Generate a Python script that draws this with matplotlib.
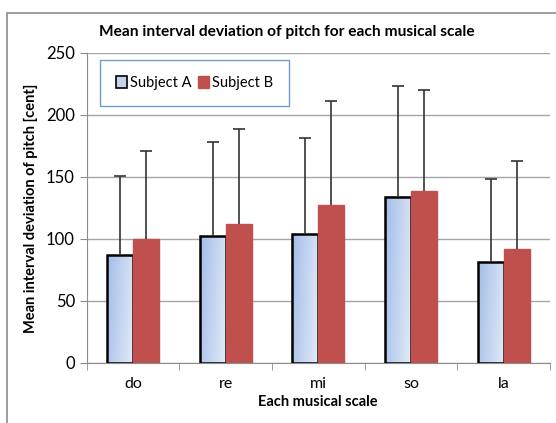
import numpy as np
import matplotlib.pyplot as plt
from matplotlib.patches import Rectangle, Patch

# data
scales = ["do", "re", "mi", "so", "la"]
subject_a = [87, 102, 104, 134, 81]
subject_b = [100, 112, 127, 139, 92]
err_a = [64, 76, 77, 89, 67]
err_b = [71, 77, 84, 81, 71]

plt.rcParams['font.family'] = ['Lato', 'DejaVu Sans']

fig = plt.figure(figsize=(5.56, 4.23), dpi=100)
ax = fig.add_axes([0.156, 0.142, 0.833, 0.733])

# outer chart frame
fig.patches.append(Rectangle((0.013, -0.05), 1.2, 1.02, transform=fig.transFigure,
                             fill=False, edgecolor="#8c8c8c", linewidth=1.2))

x = np.arange(len(scales))
w = 0.28
red = "#c0504d"

# gradient for Subject A bars
grad = np.zeros((50, 50, 3))
c1 = np.array([0.64, 0.74, 0.91])
c2 = np.array([0.88, 0.92, 0.97])
for i in range(50):
    for j in range(50):
        t = (j / 49) * 0.8 + (i / 49) * 0.2
        grad[i, j] = c1 * (1 - t) + c2 * t

bars_a = ax.bar(x - w / 2, subject_a, w, color="none", edgecolor="black", linewidth=1.8, zorder=3)
for b in bars_a:
    ax.imshow(grad, extent=(b.get_x(), b.get_x() + b.get_width(), 0, b.get_height()),
              aspect="auto", zorder=2.5, origin="upper")
ax.bar(x + w / 2, subject_b, w, color=red, edgecolor=red, zorder=3)

# plus-only error bars
for xs, ys, es in [(x - w / 2, subject_a, err_a), (x + w / 2, subject_b, err_b)]:
    eb = ax.errorbar(xs, ys, yerr=[np.zeros(5), es], fmt="none", ecolor="#333333",
                     elinewidth=1.2, capsize=4, capthick=1.2, zorder=4)
    eb[1][0].set_visible(False)

ax.set_xlim(-0.5, 4.5)
ax.set_ylim(0, 250)
ax.set_yticks(range(0, 251, 50))
ax.yaxis.grid(True, color="#a6a6a6", linewidth=1.0, zorder=0)
ax.set_xticks(x)
ax.set_xticklabels(scales, fontsize=11.5)
ax.set_xticks(np.arange(-0.5, 5, 1), minor=True)
ax.tick_params(axis="x", which="major", length=0, pad=10)
ax.tick_params(axis="x", which="minor", length=5, color="#8c8c8c")
ax.tick_params(axis="y", length=5, color="#8c8c8c", labelsize=12)
for s in ["top", "right"]:
    ax.spines[s].set_visible(False)
for s in ["left", "bottom"]:
    ax.spines[s].set_color("#8c8c8c")

fig.text(0.515, 0.925, "Mean interval deviation of pitch for each musical scale",
         fontsize=11.2, fontweight="bold", ha="center", va="center")
ax.set_xlabel("Each musical scale", fontsize=10.5, fontweight="bold", labelpad=3)
ax.set_ylabel("Mean interval deviation of pitch [cent]", fontsize=10.5, fontweight="bold", labelpad=6)

handles = [Patch(facecolor="#c5d4ee", edgecolor="black", linewidth=1.2, label="Subject A"),
           Patch(facecolor=red, edgecolor=red, label="Subject B")]
leg = ax.legend(handles=handles, loc="upper left", bbox_to_anchor=(0.028, 0.977), ncol=2,
                fontsize=10.5, frameon=True, fancybox=False, handlelength=0.8,
                handleheight=0.8, handletextpad=0.2, columnspacing=0.4,
                borderpad=1.1, borderaxespad=0)
leg.get_frame().set_edgecolor("#4f81bd")
leg.get_frame().set_linewidth(1.0)

fig.savefig("out.png", dpi=100)
